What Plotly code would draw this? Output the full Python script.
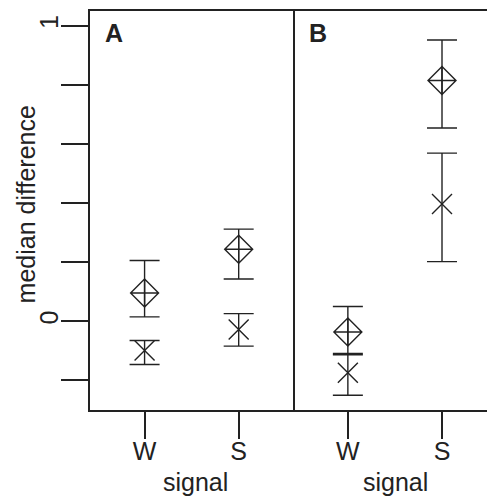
import plotly.graph_objects as go

# ---- data ----
categories = ["W", "S"]
x_pos = [1, 2]

a_diamond = [0.096, 0.244]
a_diamond_lo = [0.015, 0.143]
a_diamond_hi = [0.206, 0.312]

a_cross = [-0.099, -0.028]
a_cross_lo = [-0.146, -0.084]
a_cross_hi = [-0.065, 0.026]

b_diamond = [-0.036, 0.815]
b_diamond_lo = [-0.109, 0.654]
b_diamond_hi = [0.050, 0.952]

b_cross = [-0.174, 0.397]
b_cross_lo = [-0.250, 0.202]
b_cross_hi = [-0.113, 0.569]

y_tickvals = [-0.2, 0, 0.2, 0.4, 0.6, 0.8, 1]
y_ticktext = ["", "0", "", "", "", "", "1"]

ink = "#222222"
font_family = "Liberation Sans, Arial, sans-serif"

fig = go.Figure()


def add_series(xa, ya, vals, lo, hi, symbol, size):
    fig.add_trace(go.Scatter(
        x=x_pos, y=vals, xaxis=xa, yaxis=ya, mode="markers",
        marker=dict(symbol=symbol, size=size, color=ink,
                    line=dict(color=ink, width=1.4)),
        error_y=dict(type="data", symmetric=False,
                     array=[h - v for h, v in zip(hi, vals)],
                     arrayminus=[v - l for v, l in zip(vals, lo)],
                     color=ink, thickness=1.4, width=15),
        showlegend=False, hoverinfo="skip"))


add_series("x", "y", a_diamond, a_diamond_lo, a_diamond_hi, "diamond-cross-open", 21.5)
add_series("x", "y", a_cross, a_cross_lo, a_cross_hi, "x-thin-open", 20)
add_series("x2", "y2", b_diamond, b_diamond_lo, b_diamond_hi, "diamond-cross-open", 21.5)
add_series("x2", "y2", b_cross, b_cross_lo, b_cross_hi, "x-thin-open", 20)

split = 0.512
common_x = dict(tickvals=x_pos, ticktext=categories, ticks="outside", ticklen=27,
                tickwidth=1.5, tickcolor=ink, showline=True, linecolor=ink,
                linewidth=1.5, mirror=True, showgrid=False, zeroline=False,
                tickfont=dict(size=25, color=ink, family=font_family),
                ticklabelstandoff=-9, fixedrange=True)
yrange = [-0.3, 1.05]

fig.update_layout(
    width=487, height=496,
    margin=dict(l=90, r=0, t=11, b=86),
    paper_bgcolor="white", plot_bgcolor="white",
    font=dict(family=font_family, size=25, color=ink),
    xaxis=dict(domain=[0, split], range=[0.42, 2.58], anchor="y", **common_x),
    xaxis2=dict(domain=[split, 1], range=[0.42, 2.478], anchor="y2", **common_x),
    yaxis=dict(domain=[0, 1], range=yrange, anchor="x", tickvals=y_tickvals,
               ticktext=y_ticktext, ticks="outside", ticklen=27, tickwidth=1.5,
               tickcolor=ink, showline=True, linecolor=ink, linewidth=1.5,
               mirror=True, showgrid=False, zeroline=False, tickangle=-90,
               tickfont=dict(size=25, color=ink, family=font_family),
               ticklabelstandoff=-7, fixedrange=True),
    yaxis2=dict(domain=[0, 1], range=yrange, anchor="x2", showline=False,
                ticks="", showticklabels=False,
                showgrid=False, zeroline=False, fixedrange=True),
    annotations=[
        dict(text="<b>A</b>", xref="x domain", yref="y domain", x=0.066, y=0.944,
             xanchor="left", yanchor="middle", showarrow=False,
             font=dict(size=25, color=ink, family=font_family)),
        dict(text="<b>B</b>", xref="x2 domain", yref="y2 domain", x=0.07, y=0.944,
             xanchor="left", yanchor="middle", showarrow=False,
             font=dict(size=25, color=ink, family=font_family)),
        dict(text="signal", xref="x", yref="paper", x=1.544, y=-0.180,
             xanchor="center", yanchor="middle", showarrow=False,
             font=dict(size=25, color=ink, family=font_family)),
        dict(text="signal", xref="x2", yref="paper", x=1.51, y=-0.180,
             xanchor="center", yanchor="middle", showarrow=False,
             font=dict(size=25, color=ink, family=font_family)),
        dict(text="median difference", xref="paper", yref="paper", x=-0.1605,
             y=0.516, xanchor="center", yanchor="middle", textangle=-90,
             showarrow=False, font=dict(size=25, color=ink, family=font_family)),
    ],
)

fig.write_html(
    "out.html",
    config={"displayModeBar": False},
    post_script="document.body.style.margin='0px';document.body.style.overflow='hidden';",
)
